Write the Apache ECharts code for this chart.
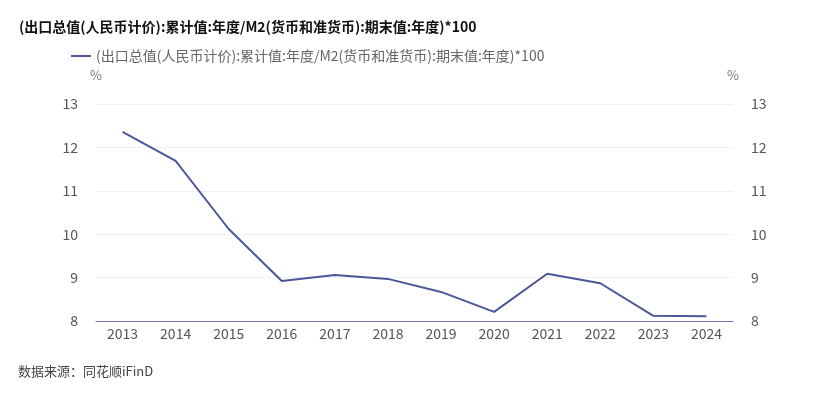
<!DOCTYPE html>
<html>
<head>
<meta charset="utf-8">
<script src="https://cdn.jsdelivr.net/npm/echarts@6/dist/echarts.min.js"></script>
<style>
  html, body { margin: 0; padding: 0; background: #fff; }
  #chart { width: 830px; height: 398px; }
</style>
</head>
<body>
<div id="chart"></div>
<script>
  var years = ['2013', '2014', '2015', '2016', '2017', '2018', '2019', '2020', '2021', '2022', '2023', '2024'];
  var ratioValues = [12.36, 11.69, 10.12, 8.92, 9.06, 8.97, 8.67, 8.21, 9.09, 8.87, 8.12, 8.11];
  var seriesName = '(出口总值(人民币计价):累计值:年度/M2(货币和准货币):期末值:年度)*100';

  var font = '"Noto Sans CJK SC", "Microsoft YaHei", sans-serif';
  var chart = echarts.init(document.getElementById('chart'));

  var yAxisCommon = {
    type: 'value',
    min: 8,
    max: 13,
    interval: 1,
    name: '%',
    nameGap: 22,
    nameTextStyle: { color: '#777', fontSize: 13, fontFamily: font },
    axisLine: { show: false },
    axisTick: { show: false },
    axisLabel: { color: '#555', fontSize: 14, fontFamily: font, margin: 18 },
    splitLine: { lineStyle: { color: '#eef0f6' } }
  };

  var option = {
    animation: false,
    title: {
      text: seriesName,
      left: 14,
      top: 15,
      textStyle: { fontSize: 14, fontWeight: 'bold', color: '#111', fontFamily: font }
    },
    legend: {
      left: 66,
      top: 44,
      itemWidth: 20,
      itemHeight: 2,
      itemGap: 8,
      icon: 'rect',
      textStyle: { color: '#666', fontSize: 14, fontFamily: font },
      data: [seriesName]
    },
    graphic: [{
      type: 'text',
      left: 18,
      top: 365,
      style: { text: '数据来源：同花顺iFinD', fill: '#444', fontSize: 13, fontFamily: font }
    }],
    grid: { left: 96, right: 97, top: 104, bottom: 77 },
    xAxis: {
      type: 'category',
      data: years,
      axisLine: { lineStyle: { color: '#6e7ab0', width: 1 } },
      axisTick: { show: false },
      axisLabel: { color: '#555', fontSize: 14, fontFamily: font, margin: 6 }
    },
    yAxis: [
      Object.assign({}, yAxisCommon, { position: 'left' }),
      Object.assign({}, yAxisCommon, { position: 'right' })
    ],
    series: [{
      name: seriesName,
      type: 'line',
      data: ratioValues,
      showSymbol: false,
      symbol: 'none',
      lineStyle: { color: '#4b5799', width: 2 },
      itemStyle: { color: '#4b5799' }
    }]
  };

  chart.setOption(option);
</script>
</body>
</html>
